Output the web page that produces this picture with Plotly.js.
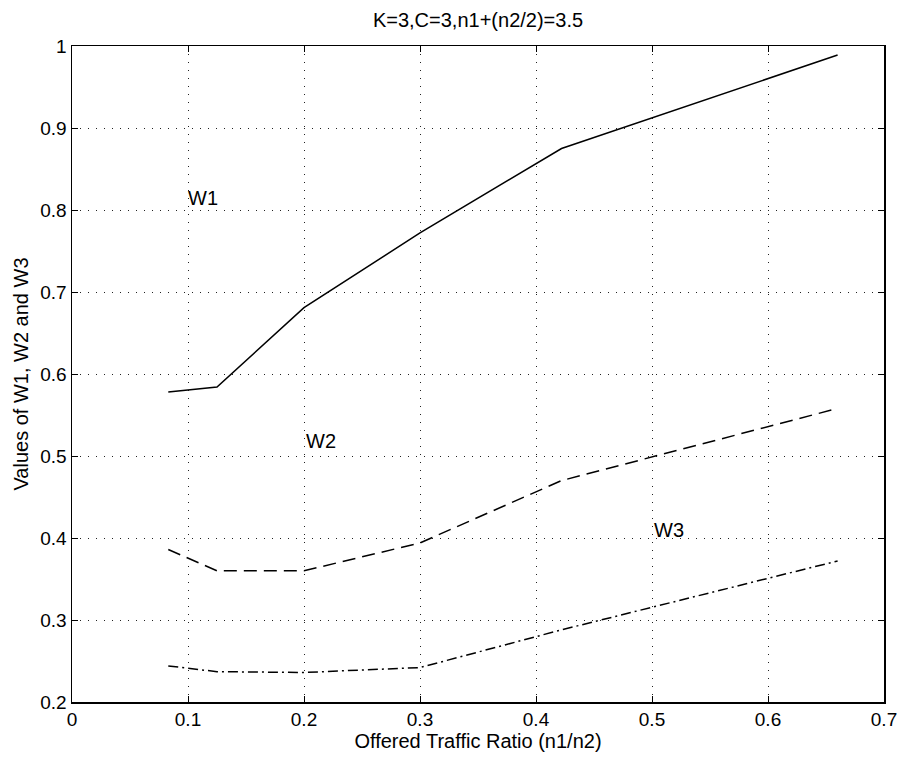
<!DOCTYPE html>
<html>
<head>
<meta charset="utf-8">
<script src="https://cdn.plot.ly/plotly-3.0.1.min.js"></script>
<style>html,body{margin:0;padding:0;background:#fff;}#chart{width:900px;height:758px;}</style>
</head>
<body>
<div id="chart"></div>
<script>
// Data
const ratio = [0.083, 0.125, 0.2, 0.3, 0.422, 0.66];
const w1 = [0.578, 0.584, 0.681, 0.772, 0.875, 0.989];
const w2 = [0.386, 0.360, 0.360, 0.394, 0.470, 0.558];
const w3 = [0.244, 0.237, 0.236, 0.242, 0.288, 0.372];

const labelNames = ["W1", "W2", "W3"];
const labelX = [0.113, 0.215, 0.515];
const labelY = [0.815, 0.518, 0.410];

const titleText = "K=3,C=3,n1+(n2/2)=3.5";
const xTitle = "Offered Traffic Ratio (n1/n2)";
const yTitle = "Values of W1, W2 and W3";

const FONT = "Liberation Sans, Arial, Helvetica, sans-serif";

const traces = [
  {x: ratio, y: w1, mode: "lines", name: "W1", line: {color: "#000", width: 1.5, dash: "solid"}},
  {x: ratio, y: w2, mode: "lines", name: "W2", line: {color: "#000", width: 1.5, dash: "13px,7px"}},
  {x: ratio, y: w3, mode: "lines", name: "W3", line: {color: "#000", width: 1.5, dash: "10px,4px,2px,4px"}}
];

const annotations = labelNames.map((t, i) => ({
  x: labelX[i], y: labelY[i], xref: "x", yref: "y", text: t, showarrow: false,
  xanchor: "center", yanchor: "middle", font: {family: FONT, size: 20, color: "#000"}
}));

const axisCommon = {
  showline: true, linecolor: "#000", linewidth: 1.5, mirror: "ticks",
  ticks: "inside", ticklen: 6, tickcolor: "#000", tickwidth: 1,
  showgrid: true, gridcolor: "#222", gridwidth: 1, griddash: "1px,7px",
  zeroline: false, tickfont: {family: FONT, size: 19, color: "#000"}
};

const layout = {
  width: 900, height: 758,
  margin: {l: 72, r: 16, t: 46, b: 56},
  paper_bgcolor: "#fff", plot_bgcolor: "#fff",
  showlegend: false,
  title: {text: titleText, x: 0.5, xref: "paper", y: 0.9736, yanchor: "middle",
          font: {family: FONT, size: 20, color: "#000"}},
  xaxis: Object.assign({}, axisCommon, {
    range: [0, 0.7], dtick: 0.1, tick0: 0,
    title: {text: xTitle, font: {family: FONT, size: 20, color: "#000"}, standoff: 4}
  }),
  yaxis: Object.assign({}, axisCommon, {
    range: [0.2, 1], dtick: 0.1, tick0: 0.2,
    title: {text: yTitle, font: {family: FONT, size: 20, color: "#000"}, standoff: 6}
  }),
  annotations: annotations
};

Plotly.newPlot("chart", traces, layout, {displayModeBar: false, staticPlot: true});
</script>
</body>
</html>
